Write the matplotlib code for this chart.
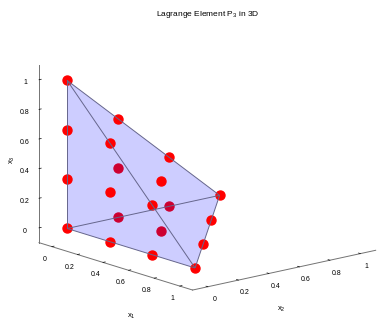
import numpy as np
import matplotlib
matplotlib.use("Agg")
import matplotlib.pyplot as plt
from mpl_toolkits.mplot3d.art3d import Poly3DCollection, Line3DCollection

plt.rcParams['font.family'] = ['Liberation Sans', 'DejaVu Sans']
plt.rcParams['mathtext.fontset'] = 'custom'
plt.rcParams['mathtext.rm'] = 'Liberation Sans'
plt.rcParams['mathtext.it'] = 'Liberation Sans'
plt.rcParams['mathtext.default'] = 'regular'

# corners of the reference tetrahedron
verts = np.array([[0, 0, 0], [1, 0, 0], [0, 1, 0], [0, 0, 1]])
faces = [[0, 1, 2], [0, 1, 3], [0, 2, 3], [1, 2, 3]]
edges = [[0, 1], [0, 2], [0, 3], [1, 2], [1, 3], [2, 3]]

# P3 Lagrange nodes (4 vertices, 12 edge nodes, 4 face centres)
nodes = np.array([
    [0, 0, 0], [1, 0, 0], [0, 1, 0], [0, 0, 1],
    [1/3, 0, 0], [2/3, 0, 0],
    [0, 1/3, 0], [0, 2/3, 0],
    [0, 0, 1/3], [0, 0, 2/3],
    [2/3, 1/3, 0], [1/3, 2/3, 0],
    [2/3, 0, 1/3], [1/3, 0, 2/3],
    [0, 2/3, 1/3], [0, 1/3, 2/3],
    [1/3, 1/3, 0], [1/3, 0, 1/3], [0, 1/3, 1/3], [1/3, 1/3, 1/3],
])

ticks = [0, 0.2, 0.4, 0.6, 0.8, 1]
tick_labels = ['0', '0.2', '0.4', '0.6', '0.8', '1']

fig = plt.figure(figsize=(3.78, 3.22), dpi=100)
ax = fig.add_axes([0.037, -0.003, 1.0, 1.0], projection='3d', proj_type='ortho')
ax.computed_zorder = False
ax.view_init(elev=15, azim=-40)
ax.set_box_aspect((1, 1, 0.77), zoom=1.16)

# nodes hidden behind the two front faces (x2=0 and x1+x2+x3=1)
behind = (nodes[:, 1] > 0) & (nodes.sum(axis=1) < 0.99)
ax.scatter(nodes[behind, 0], nodes[behind, 1], nodes[behind, 2],
           s=42, color='red', depthshade=False, zorder=1)

tris = [[verts[i] for i in f] for f in faces]
ax.add_collection3d(Poly3DCollection(tris, facecolor=(0, 0, 1, 0.1),
                                     edgecolor='none', zorder=2))

ax.scatter(nodes[~behind, 0], nodes[~behind, 1], nodes[~behind, 2],
           s=42, color='red', depthshade=False, zorder=3)

segs = [[verts[i] for i in e] for e in edges]
ax.add_collection3d(Line3DCollection(segs, colors=(0.4, 0.4, 0.55),
                                     linewidths=0.7, zorder=4))

ax.set_xlim(-0.1, 1.1)
ax.set_ylim(-0.1, 1.1)
ax.set_zlim(-0.1, 1.1)

for axis in (ax.xaxis, ax.yaxis, ax.zaxis):
    axis.set_pane_color((1, 1, 1, 0))
    axis.line.set_color((0.45, 0.45, 0.45))
    axis.line.set_linewidth(0.7)
    axis.set_ticks(ticks)
    axis.set_ticklabels(tick_labels, fontsize=5)
    axis._axinfo['tick']['inward_factor'] = 0.0
    axis._axinfo['tick']['outward_factor'] = 0.15
    axis._axinfo['tick']['color'] = (0.45, 0.45, 0.45)
    axis._axinfo['tick']['linewidth'] = {True: 0.5, False: 0.5}
ax.grid(False)
ax.zaxis.set_ticks_position('lower')
ax.tick_params(pad=-3)

# axis titles kept horizontal like the original (mplot3d would rotate them)
fig.text(0.347, 0.016, 'x$_1$', fontsize=5.5, ha='center', va='center')
fig.text(0.743, 0.040, 'x$_2$', fontsize=5.5, ha='center', va='center')
fig.text(0.032, 0.503, 'x$_3$', fontsize=5.5, ha='center', va='center',
         rotation=90)

fig.text(0.55, 0.955, 'Lagrange Element P$_3$ in 3D', fontsize=6,
         ha='center', va='center')

fig.savefig('out.png', dpi=100)
